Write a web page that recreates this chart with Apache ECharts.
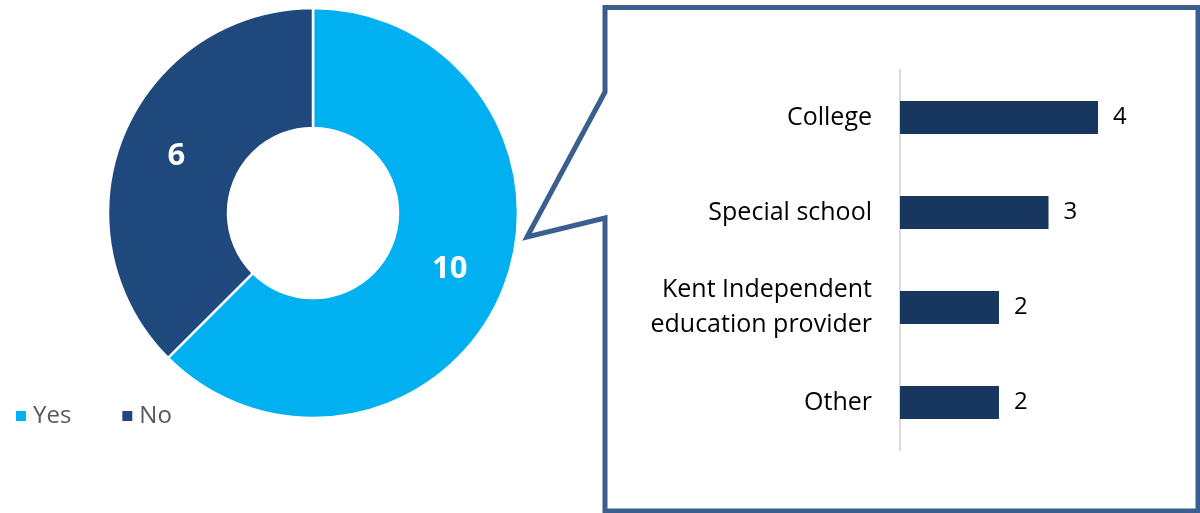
<!DOCTYPE html>
<html>
<head>
<meta charset="utf-8">
<script src="https://cdn.jsdelivr.net/npm/echarts@6/dist/echarts.min.js"></script>
<style>
html,body{margin:0;padding:0;background:#fff;}
#chart{width:1200px;height:513px;}
</style>
</head>
<body>
<div id="chart"></div>
<script>
// Donut data
const pieNames = ['Yes', 'No'];
const pieValues = [10, 6];
const pieColors = ['#00B0F0', '#1F497D'];

// Bar data (callout)
const barCategories = ['College', 'Special school', 'Kent Independent\neducation provider', 'Other'];
const barValues = [4, 3, 2, 2];

const FONT = 'Open Sans';

const chart = echarts.init(document.getElementById('chart'), null, {renderer: 'canvas'});

const option = {
  animation: false,
  backgroundColor: '#ffffff',
  textStyle: {fontFamily: FONT},
  legend: {
    data: pieNames,
    left: 9,
    top: 396,
    orient: 'horizontal',
    icon: 'rect',
    itemWidth: 12,
    itemHeight: 12,
    itemGap: 49,
    textStyle: {fontFamily: FONT, fontSize: 24, color: '#595959', lineHeight: 30, padding: [0, 0, 0, 1]}
  },
  grid: {left: 900, top: 70, width: 247.5, height: 380, containLabel: false},
  xAxis: {
    type: 'value', min: 0, max: 5, show: false
  },
  yAxis: {
    type: 'category',
    inverse: true,
    data: barCategories,
    axisLine: {show: true, lineStyle: {color: '#D9D9D9', width: 2}},
    axisTick: {show: false},
    axisLabel: {
      fontFamily: FONT, fontSize: 25, color: '#000000', margin: 28,
      lineHeight: 35, align: 'right'
    },
    splitLine: {show: false}
  },
  graphic: [{
    type: 'polygon',
    z: 100,
    shape: {points: [[605, 7.5], [1198, 7.5], [1198, 511], [605, 511], [605, 218], [527, 237], [605, 92]]},
    style: {fill: null, stroke: '#3A5F8E', lineWidth: 5, lineJoin: 'miter'}
  }],
  series: [
    {
      name: 'Donut',
      type: 'pie',
      center: [313, 213],
      radius: [85, 205],
      startAngle: 90,
      clockwise: true,
      avoidLabelOverlap: false,
      itemStyle: {borderColor: '#ffffff', borderWidth: 2.5},
      label: {
        show: true, position: 'inside', formatter: '{c}',
        fontFamily: FONT, fontSize: 31, fontWeight: 'bold', color: '#ffffff'
      },
      labelLine: {show: false},
      emphasis: {disabled: true},
      data: pieNames.map((n, i) => ({name: n, value: pieValues[i], itemStyle: {color: pieColors[i]}}))
    },
    {
      name: 'Destination',
      type: 'bar',
      barWidth: 33,
      itemStyle: {color: '#17375E'},
      label: {
        show: true, position: 'right', distance: 15,
        fontFamily: FONT, fontSize: 24, color: '#000000'
      },
      emphasis: {disabled: true},
      data: barValues
    }
  ]
};
chart.setOption(option);
</script>
</body>
</html>
